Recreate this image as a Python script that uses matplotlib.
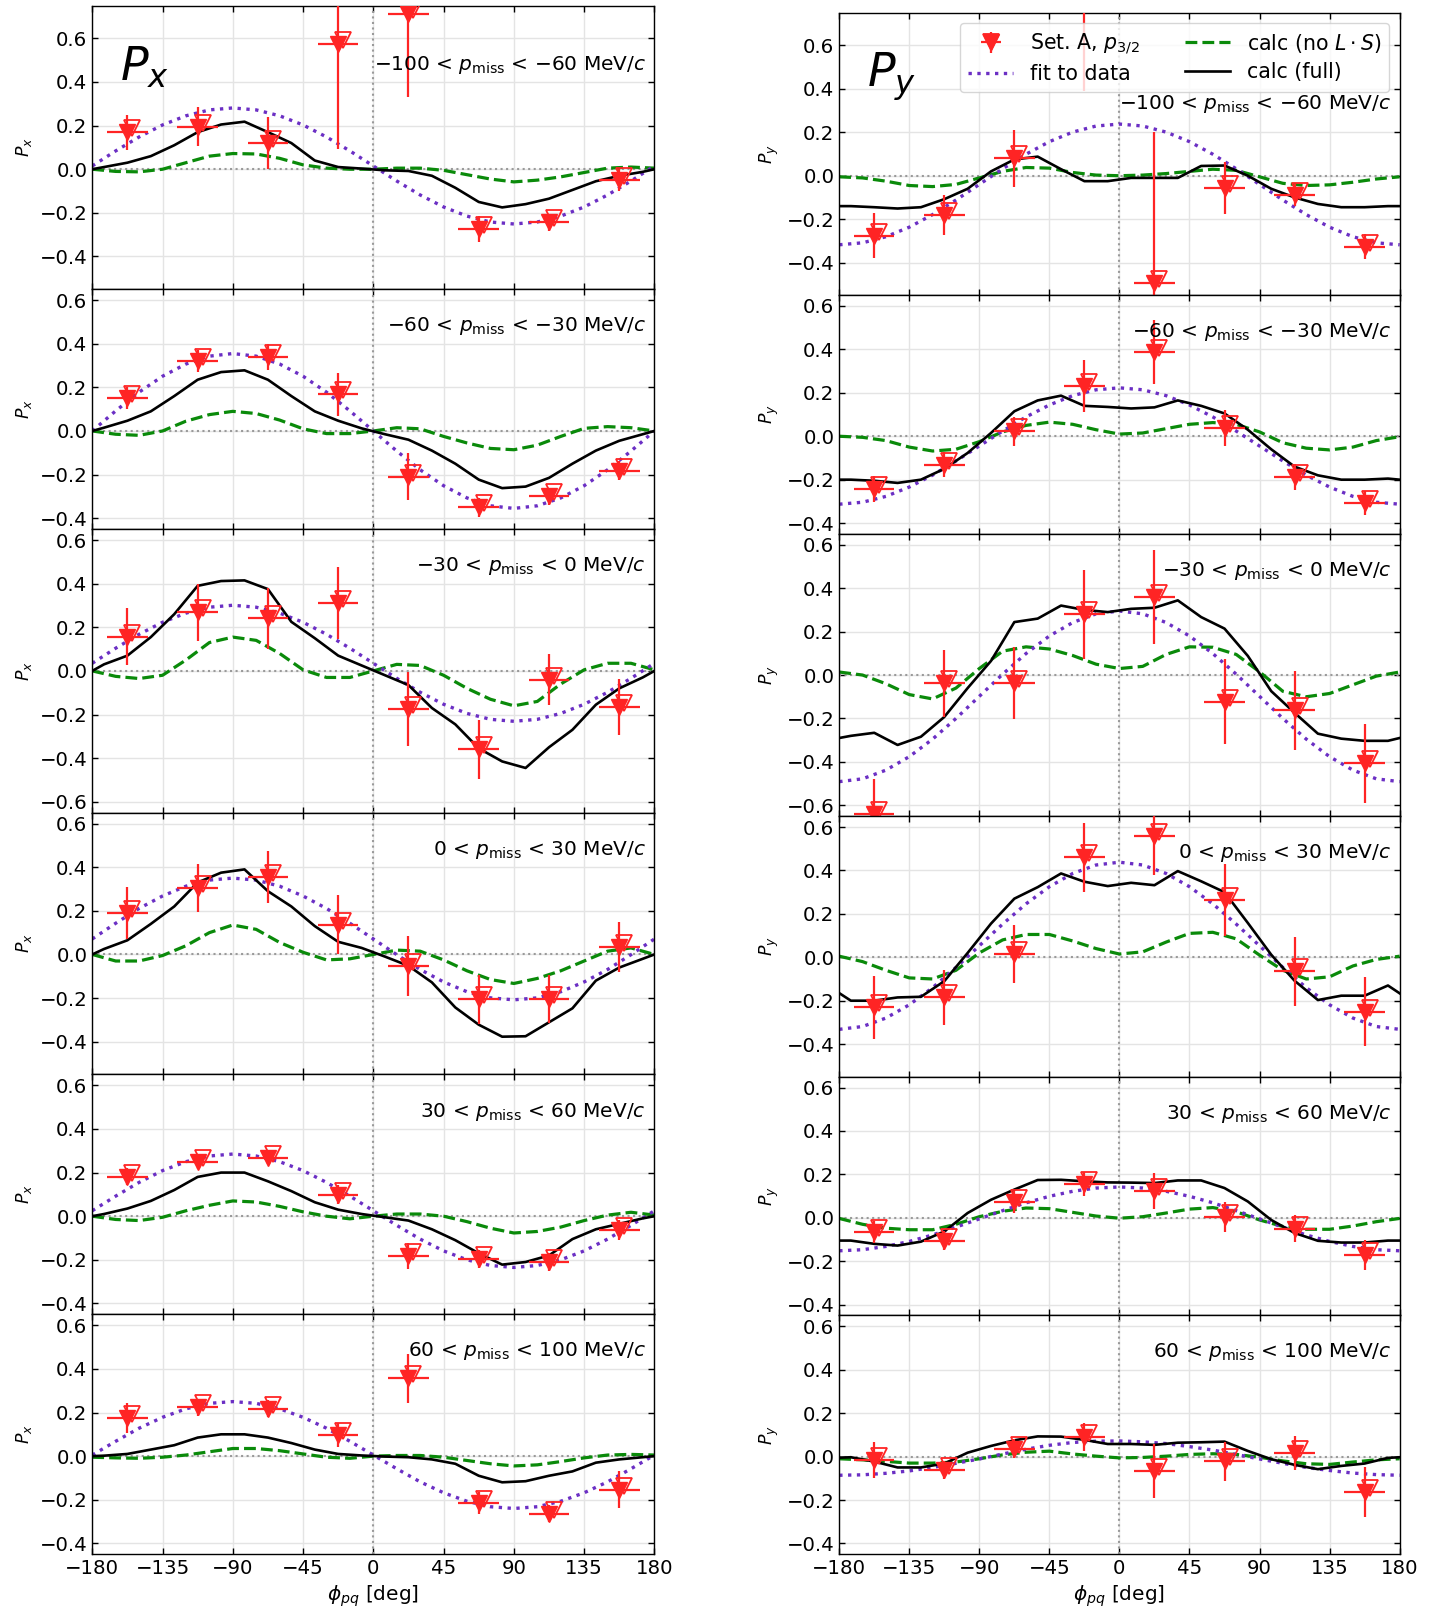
import matplotlib
matplotlib.use("Agg")
import matplotlib.pyplot as plt
from matplotlib.ticker import MultipleLocator
from matplotlib.transforms import offset_copy

# azimuthal bins of the data points and the grids of the curves
phi_bins = [-157.5, -112.5, -67.5, -22.5, 22.5, 67.5, 112.5, 157.5]
phi_half = 13
phi_fine = [-180, -165, -150, -135, -120, -105, -90, -75, -60, -45, -30, -15, 0,
            15, 30, 45, 60, 75, 90, 105, 120, 135, 150, 165, 180]
phi_calc = [-180, -172.5, -157.5, -142.5, -127.5, -112.5, -97.5, -82.5, -67.5, -52.5,
            -37.5, -22.5, -7.5, 7.5, 22.5, 37.5, 52.5, 67.5, 82.5, 97.5, 112.5,
            127.5, 142.5, 157.5, 172.5, 180]

pmiss_labels = [r"$-100$ < $p_\mathrm{miss}$ < $-60$ MeV/$c$",
                r"$-60$ < $p_\mathrm{miss}$ < $-30$ MeV/$c$",
                r"$-30$ < $p_\mathrm{miss}$ < 0 MeV/$c$",
                r"0 < $p_\mathrm{miss}$ < 30 MeV/$c$",
                r"30 < $p_\mathrm{miss}$ < 60 MeV/$c$",
                r"60 < $p_\mathrm{miss}$ < 100 MeV/$c$"]

# ---------------- P_x ----------------
px_data = [[0.17, 0.195, 0.12, 0.575, 0.71, -0.273, -0.243, -0.05],
           [0.15, 0.32, 0.338, 0.168, -0.21, -0.35, -0.30, -0.182],
           [0.157, 0.269, 0.241, 0.311, -0.173, -0.36, -0.041, -0.166],
           [0.191, 0.304, 0.356, 0.136, -0.052, -0.205, -0.205, 0.035],
           [0.182, 0.25, 0.269, 0.099, -0.182, -0.197, -0.209, -0.063],
           [0.175, 0.224, 0.218, 0.097, 0.357, -0.215, -0.264, -0.155]]
px_err = [[0.08, 0.09, 0.12, 0.48, 0.38, 0.06, 0.04, 0.05],
          [0.05, 0.05, 0.06, 0.10, 0.107, 0.045, 0.04, 0.045],
          [0.13, 0.13, 0.14, 0.164, 0.17, 0.135, 0.117, 0.128],
          [0.118, 0.11, 0.118, 0.136, 0.137, 0.112, 0.11, 0.116],
          [0.04, 0.035, 0.03, 0.045, 0.06, 0.04, 0.04, 0.045],
          [0.07, 0.04, 0.04, 0.053, 0.113, 0.05, 0.04, 0.085]]
px_fit = [[0.015, 0.084, 0.148, 0.203, 0.245, 0.272, 0.281, 0.272, 0.245, 0.203, 0.148, 0.084, 0.015,
           -0.054, -0.118, -0.173, -0.215, -0.242, -0.251, -0.242, -0.215, -0.173, -0.118, -0.054, 0.015],
          [0.0, 0.092, 0.178, 0.251, 0.307, 0.343, 0.355, 0.343, 0.307, 0.251, 0.178, 0.092, 0.0,
           -0.092, -0.178, -0.251, -0.307, -0.343, -0.355, -0.343, -0.307, -0.251, -0.178, -0.092, 0.0],
          [0.035, 0.104, 0.168, 0.223, 0.265, 0.292, 0.301, 0.292, 0.265, 0.223, 0.168, 0.104, 0.035,
           -0.034, -0.098, -0.153, -0.195, -0.222, -0.231, -0.222, -0.195, -0.153, -0.098, -0.034, 0.035],
          [0.071, 0.143, 0.211, 0.268, 0.313, 0.341, 0.350, 0.341, 0.313, 0.268, 0.211, 0.143, 0.071,
           -0.001, -0.069, -0.126, -0.171, -0.199, -0.208, -0.199, -0.171, -0.126, -0.069, -0.001, 0.071],
          [0.025, 0.092, 0.155, 0.209, 0.250, 0.276, 0.285, 0.276, 0.250, 0.209, 0.155, 0.092, 0.025,
           -0.042, -0.105, -0.159, -0.200, -0.226, -0.235, -0.226, -0.200, -0.159, -0.105, -0.042, 0.025],
          [0.005, 0.068, 0.128, 0.178, 0.217, 0.242, 0.250, 0.242, 0.217, 0.178, 0.128, 0.068, 0.005,
           -0.058, -0.118, -0.168, -0.207, -0.232, -0.240, -0.232, -0.207, -0.168, -0.118, -0.058, 0.005]]
px_nols = [[0.0, -0.01, -0.012, 0.0, 0.03, 0.06, 0.072, 0.07, 0.05, 0.02, 0.005, 0.0, 0.0,
            0.005, 0.005, -0.005, -0.025, -0.045, -0.058, -0.05, -0.035, -0.015, 0.005, 0.01, 0.005],
           [0.0, -0.015, -0.02, 0.0, 0.045, 0.075, 0.09, 0.08, 0.05, 0.01, -0.012, -0.012, 0.0,
            0.015, 0.01, -0.025, -0.055, -0.08, -0.086, -0.065, -0.025, 0.012, 0.02, 0.015, 0.0],
           [0.0, -0.025, -0.035, -0.02, 0.05, 0.13, 0.155, 0.14, 0.08, 0.005, -0.03, -0.03, 0.0,
            0.03, 0.025, -0.02, -0.08, -0.13, -0.16, -0.14, -0.06, 0.005, 0.035, 0.035, 0.005],
           [0.0, -0.03, -0.03, -0.005, 0.04, 0.1, 0.135, 0.115, 0.055, 0.01, -0.025, -0.02, 0.0,
            0.02, 0.015, -0.025, -0.075, -0.115, -0.133, -0.11, -0.075, -0.03, 0.015, 0.03, 0.0],
           [0.0, -0.015, -0.02, -0.005, 0.025, 0.05, 0.07, 0.065, 0.045, 0.02, 0.0, -0.012, 0.0,
            0.01, 0.01, 0.0, -0.025, -0.055, -0.077, -0.07, -0.05, -0.02, 0.005, 0.018, 0.005],
           [-0.005, -0.008, -0.01, -0.005, 0.005, 0.02, 0.035, 0.035, 0.025, 0.01, -0.005, -0.01, 0.0,
            0.003, 0.003, -0.005, -0.02, -0.035, -0.045, -0.04, -0.025, -0.008, 0.005, 0.008, 0.005]]
px_full = [[0.0, 0.01, 0.03, 0.06, 0.11, 0.17, 0.205, 0.218, 0.17, 0.12, 0.04, 0.01, 0.003,
            -0.005, -0.008, -0.03, -0.085, -0.15, -0.175, -0.16, -0.135, -0.095, -0.055, -0.03, -0.012, 0.0],
           [0.0, 0.015, 0.047, 0.09, 0.16, 0.235, 0.27, 0.278, 0.235, 0.16, 0.09, 0.047, 0.012,
            -0.015, -0.04, -0.09, -0.15, -0.223, -0.262, -0.255, -0.215, -0.15, -0.09, -0.045, -0.015, 0.0],
           [0.0, 0.03, 0.07, 0.155, 0.26, 0.39, 0.412, 0.415, 0.375, 0.225, 0.15, 0.07, 0.025,
            -0.02, -0.065, -0.17, -0.245, -0.355, -0.415, -0.445, -0.35, -0.27, -0.155, -0.08, -0.03, 0.0],
           [0.0, 0.025, 0.065, 0.14, 0.22, 0.33, 0.375, 0.39, 0.29, 0.22, 0.13, 0.058, 0.03,
            -0.01, -0.052, -0.128, -0.243, -0.322, -0.377, -0.375, -0.311, -0.247, -0.12, -0.06, -0.02, 0.0],
           [0.0, 0.01, 0.035, 0.07, 0.12, 0.18, 0.2, 0.2, 0.16, 0.115, 0.064, 0.03, 0.01,
            -0.005, -0.02, -0.06, -0.11, -0.17, -0.222, -0.21, -0.18, -0.105, -0.06, -0.035, -0.01, 0.0],
           [0.0, 0.002, 0.01, 0.03, 0.05, 0.085, 0.1, 0.1, 0.085, 0.06, 0.03, 0.01, 0.003,
            -0.002, -0.005, -0.015, -0.035, -0.09, -0.12, -0.115, -0.09, -0.07, -0.03, -0.015, -0.005, 0.0]]

# ---------------- P_y ----------------
py_data = [[-0.277, -0.18, 0.08, 0.95, -0.495, -0.057, -0.088, -0.326],
           [-0.245, -0.131, 0.023, 0.232, 0.389, 0.038, -0.188, -0.306],
           [-0.64, -0.038, -0.037, 0.28, 0.36, -0.123, -0.163, -0.407],
           [-0.231, -0.185, 0.015, 0.46, 0.56, 0.265, -0.065, -0.25],
           [-0.065, -0.105, 0.072, 0.157, 0.123, 0.003, -0.05, -0.171],
           [-0.017, -0.061, 0.037, 0.09, -0.067, -0.021, 0.017, -0.162]]
py_err = [[0.104, 0.092, 0.132, 0.56, 0.695, 0.12, 0.05, 0.057],
          [0.06, 0.057, 0.066, 0.12, 0.148, 0.084, 0.06, 0.055],
          [0.16, 0.154, 0.166, 0.204, 0.217, 0.195, 0.182, 0.183],
          [0.146, 0.128, 0.133, 0.158, 0.18, 0.165, 0.16, 0.158],
          [0.05, 0.042, 0.05, 0.055, 0.082, 0.068, 0.063, 0.07],
          [0.082, 0.04, 0.045, 0.064, 0.125, 0.09, 0.077, 0.115]]
py_fit = [[-0.318, -0.309, -0.281, -0.237, -0.179, -0.112, -0.04, 0.032, 0.099, 0.157, 0.201, 0.229, 0.238,
           0.229, 0.201, 0.157, 0.099, 0.032, -0.04, -0.112, -0.179, -0.237, -0.281, -0.309, -0.318],
          [-0.313, -0.304, -0.277, -0.234, -0.179, -0.114, -0.045, 0.024, 0.089, 0.144, 0.187, 0.214, 0.223,
           0.214, 0.187, 0.144, 0.089, 0.024, -0.045, -0.114, -0.179, -0.234, -0.277, -0.304, -0.313],
          [-0.491, -0.478, -0.438, -0.376, -0.295, -0.200, -0.098, 0.004, 0.099, 0.180, 0.242, 0.282, 0.295,
           0.282, 0.242, 0.180, 0.099, 0.004, -0.098, -0.200, -0.295, -0.376, -0.438, -0.478, -0.491],
          [-0.332, -0.319, -0.280, -0.219, -0.140, -0.047, 0.053, 0.153, 0.246, 0.325, 0.386, 0.425, 0.438,
           0.425, 0.386, 0.325, 0.246, 0.153, 0.053, -0.047, -0.140, -0.219, -0.280, -0.319, -0.332],
          [-0.152, -0.147, -0.132, -0.109, -0.079, -0.043, -0.005, 0.033, 0.069, 0.099, 0.122, 0.137, 0.142,
           0.137, 0.122, 0.099, 0.069, 0.033, -0.005, -0.043, -0.079, -0.109, -0.132, -0.147, -0.152],
          [-0.086, -0.084, -0.077, -0.066, -0.050, -0.031, -0.011, 0.012, 0.034, 0.052, 0.065, 0.071, 0.072,
           0.068, 0.060, 0.046, 0.030, 0.010, -0.011, -0.031, -0.050, -0.064, -0.076, -0.083, -0.086]]
py_nols = [[-0.005, -0.01, -0.025, -0.045, -0.05, -0.04, -0.01, 0.02, 0.038, 0.035, 0.015, 0.003, 0.0,
            0.003, 0.01, 0.02, 0.03, 0.025, -0.005, -0.035, -0.045, -0.042, -0.03, -0.015, -0.005],
           [0.0, -0.005, -0.02, -0.05, -0.068, -0.06, -0.025, 0.02, 0.05, 0.065, 0.055, 0.03, 0.01,
            0.015, 0.035, 0.055, 0.063, 0.055, 0.02, -0.03, -0.055, -0.063, -0.05, -0.02, -0.002],
           [0.014, 0.0, -0.04, -0.09, -0.11, -0.06, 0.03, 0.11, 0.13, 0.12, 0.09, 0.05, 0.03,
            0.04, 0.095, 0.13, 0.128, 0.095, 0.015, -0.075, -0.1, -0.085, -0.045, -0.005, 0.014],
           [0.005, -0.02, -0.06, -0.095, -0.1, -0.06, 0.02, 0.08, 0.105, 0.105, 0.075, 0.04, 0.015,
            0.025, 0.07, 0.11, 0.115, 0.085, 0.01, -0.06, -0.1, -0.09, -0.04, -0.01, 0.005],
           [-0.003, -0.03, -0.048, -0.055, -0.055, -0.03, 0.005, 0.03, 0.045, 0.042, 0.025, 0.008, -0.002,
            0.005, 0.022, 0.04, 0.047, 0.028, -0.01, -0.04, -0.053, -0.053, -0.038, -0.018, -0.003],
           [-0.01, -0.015, -0.022, -0.03, -0.03, -0.025, -0.01, 0.008, 0.02, 0.025, 0.012, 0.002, -0.006,
            -0.004, 0.002, 0.01, 0.013, 0.01, -0.003, -0.02, -0.033, -0.036, -0.025, -0.015, -0.01]]
py_full = [[-0.14, -0.14, -0.145, -0.151, -0.145, -0.108, -0.06, 0.02, 0.075, 0.088, 0.03, -0.025, -0.025,
            -0.01, -0.01, -0.01, 0.045, 0.047, 0.0, -0.06, -0.1, -0.13, -0.145, -0.145, -0.14, -0.14],
           [-0.2, -0.2, -0.205, -0.215, -0.2, -0.15, -0.077, 0.015, 0.115, 0.165, 0.187, 0.14, 0.135,
            0.128, 0.133, 0.165, 0.14, 0.105, 0.03, -0.06, -0.14, -0.18, -0.2, -0.2, -0.195, -0.2],
           [-0.29, -0.28, -0.266, -0.322, -0.284, -0.193, -0.06, 0.065, 0.244, 0.26, 0.32, 0.3, 0.29,
            0.305, 0.31, 0.344, 0.267, 0.214, 0.088, -0.074, -0.174, -0.27, -0.293, -0.303, -0.303, -0.29],
           [-0.165, -0.2, -0.2, -0.185, -0.182, -0.11, 0.02, 0.155, 0.27, 0.323, 0.386, 0.348, 0.328,
            0.343, 0.332, 0.397, 0.35, 0.3, 0.158, 0.012, -0.108, -0.197, -0.177, -0.177, -0.13, -0.166],
           [-0.105, -0.105, -0.12, -0.128, -0.11, -0.063, 0.022, 0.083, 0.13, 0.174, 0.175, 0.168, 0.163,
            0.162, 0.16, 0.172, 0.172, 0.137, 0.075, -0.01, -0.07, -0.106, -0.114, -0.114, -0.105, -0.105],
           [-0.005, -0.003, -0.023, -0.05, -0.05, -0.032, 0.018, 0.049, 0.075, 0.093, 0.092, 0.077, 0.058,
            0.058, 0.054, 0.064, 0.066, 0.069, 0.026, -0.012, -0.038, -0.058, -0.043, -0.032, -0.006, -0.003]]

# layout
ylims = [(-0.55, 0.75), (-0.45, 0.65), (-0.65, 0.65), (-0.55, 0.65), (-0.45, 0.65), (-0.45, 0.65)]
label_y_x = [0.48] * 6
label_y_y = [0.33, 0.48, 0.48, 0.48, 0.48, 0.48]

RED = "#ff2424"
PURPLE = "#6b2fc4"
GREEN = "#0a8a0a"

fig = plt.figure(figsize=(14.37, 16.14), dpi=100)
ratios = [hi - lo for lo, hi in ylims]
gs_x = fig.add_gridspec(6, 1, left=0.0642, right=0.4554, top=0.9965, bottom=0.037,
                        hspace=0, height_ratios=ratios)
gs_y = fig.add_gridspec(6, 1, left=0.584, right=0.974, top=0.992, bottom=0.037,
                        hspace=0, height_ratios=ratios)


def draw_panel(ax, row, data, err, fit, nols, full, comp, text_y):
    ax.set_xlim(-180, 180)
    ax.set_ylim(*ylims[row])
    ax.xaxis.set_major_locator(MultipleLocator(45))
    ax.yaxis.set_major_locator(MultipleLocator(0.2))
    ax.grid(True, color="#e4e4e4", lw=1.0, zorder=0)
    ax.set_axisbelow(True)
    ax.axhline(0, color="#9a9a9a", ls=":", lw=1.5, zorder=1)
    ax.axvline(0, color="#9a9a9a", ls=":", lw=1.5, zorder=1)

    l_nols, = ax.plot(phi_fine, nols, "--", color=GREEN, lw=2.3, zorder=2)
    l_fit, = ax.plot(phi_fine, fit, ":", color=PURPLE, lw=2.4, zorder=2)
    l_full, = ax.plot(phi_calc, full, "-", color="k", lw=1.9, zorder=2)

    eb = ax.errorbar(phi_bins, data, xerr=phi_half, yerr=err, fmt="v", color=RED,
                     ms=12, lw=1.6, capsize=0, zorder=3)
    # open triangle drawn slightly shifted on top of the filled one
    shifted = offset_copy(ax.transData, fig=fig, x=5, y=4, units="dots")
    op, = ax.plot(phi_bins, data, "v", mfc="none", mec=RED, ms=12, mew=1.3,
                  transform=shifted, zorder=3)

    ax.tick_params(direction="in", top=True, right=True, labelsize=14.2, length=4, width=1)
    for s in ax.spines.values():
        s.set_linewidth(1.0)
    ax.set_ylabel("$P_%s$" % comp, fontsize=12.5)
    ax.text(0.985, text_y, pmiss_labels[row], transform=ax.get_yaxis_transform(),
            ha="right", va="center", fontsize=14.5)
    if row < 5:
        ax.tick_params(labelbottom=False)
    else:
        ax.set_xlabel(r"$\phi_{pq}$ [deg]", fontsize=14.5)
    return (eb, op), l_fit, l_nols, l_full


for row in range(6):
    ax = fig.add_subplot(gs_x[row])
    draw_panel(ax, row, px_data[row], px_err[row], px_fit[row], px_nols[row], px_full[row],
               "x", label_y_x[row])
    if row == 0:
        ax.text(0.05, 0.78, "$P_x$", transform=ax.transAxes, fontsize=33,
                ha="left", va="center")

for row in range(6):
    ax = fig.add_subplot(gs_y[row])
    h = draw_panel(ax, row, py_data[row], py_err[row], py_fit[row], py_nols[row], py_full[row],
                   "y", label_y_y[row])
    if row == 0:
        ax.text(0.05, 0.775, "$P_y$", transform=ax.transAxes, fontsize=33,
                ha="left", va="center")
        ax.legend([h[0], h[1], h[2], h[3]],
                  ["Set. A, $p_{3/2}$", "fit to data", r"calc (no $L\cdot S$)", "calc (full)"],
                  ncol=2, loc="upper right", fontsize=14.8, handlelength=2.2,
                  labelspacing=0.35, columnspacing=2.2)

fig.savefig("out.png", dpi=100)
